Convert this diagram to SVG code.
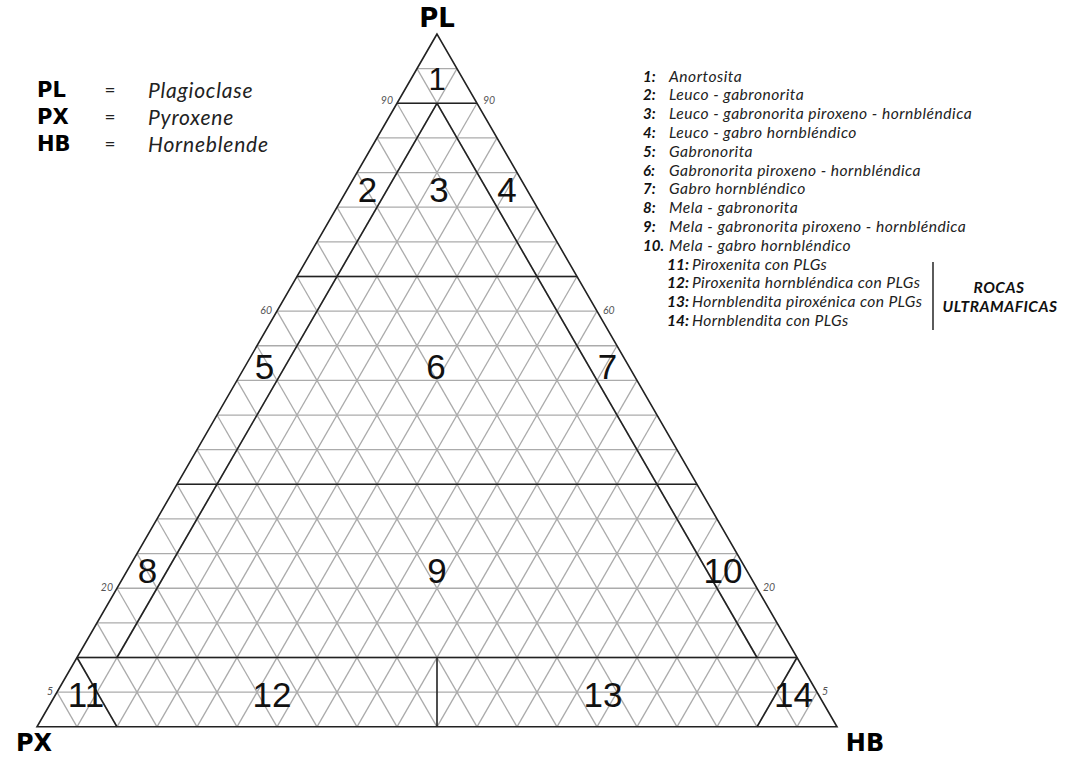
<svg xmlns="http://www.w3.org/2000/svg" xmlns:xlink="http://www.w3.org/1999/xlink" width="1071" height="757" viewBox="0 0 1071 757">
<style>
.gl{stroke:#ababab;stroke-width:1.3;fill:none}
.bold{stroke:#222;stroke-width:1.6;fill:none;stroke-linejoin:miter}
.num{font-family:"Liberation Sans",Arial,sans-serif;font-size:35px;fill:#111;text-anchor:middle}
.ax{font-family:"DejaVu Sans",Verdana,sans-serif;font-weight:bold;fill:#000}
.tick{font-family:Lato,"Open Sans",sans-serif;font-style:italic;font-size:10.5px;fill:#555}
.leg{font-family:Lato,"Open Sans",sans-serif;font-style:italic;font-size:21px;letter-spacing:0.8px;fill:#222}
.eq{font-family:Lato,"Open Sans",sans-serif;font-size:19px;fill:#222}
.rl{font-family:Lato,"Open Sans",sans-serif;font-style:italic;font-size:15.6px;letter-spacing:0.5px;fill:#222}
.rn{font-family:Lato,"Open Sans",sans-serif;font-style:italic;font-weight:bold;font-size:15px;fill:#111}
.rn2{font-family:Lato,"Open Sans",sans-serif;font-style:italic;font-weight:bold;font-size:15.5px;fill:#111}
.rl2{font-family:Lato,"Open Sans",sans-serif;font-style:italic;font-size:15.6px;letter-spacing:0.4px;fill:#222}
.uc{font-family:Lato,"Open Sans",sans-serif;font-style:italic;font-weight:bold;font-size:15.5px;letter-spacing:0.5px;fill:#111;text-anchor:middle}
</style>
<defs>
<g id="hbgrid" stroke="#ababab" stroke-width="1.3" fill="none">
<line x1="77" y1="726.8" x2="457" y2="68.64"/>
<line x1="117" y1="726.8" x2="477" y2="103.28"/>
<line x1="157" y1="726.8" x2="497" y2="137.92"/>
<line x1="197" y1="726.8" x2="517" y2="172.56"/>
<line x1="237" y1="726.8" x2="537" y2="207.2"/>
<line x1="277" y1="726.8" x2="557" y2="241.84"/>
<line x1="317" y1="726.8" x2="577" y2="276.48"/>
<line x1="357" y1="726.8" x2="597" y2="311.12"/>
<line x1="397" y1="726.8" x2="617" y2="345.76"/>
<line x1="437" y1="726.8" x2="637" y2="380.4"/>
<line x1="477" y1="726.8" x2="657" y2="415.04"/>
<line x1="517" y1="726.8" x2="677" y2="449.68"/>
<line x1="557" y1="726.8" x2="697" y2="484.32"/>
<line x1="597" y1="726.8" x2="717" y2="518.96"/>
<line x1="637" y1="726.8" x2="737" y2="553.6"/>
<line x1="677" y1="726.8" x2="757" y2="588.24"/>
<line x1="717" y1="726.8" x2="777" y2="622.88"/>
<line x1="757" y1="726.8" x2="797" y2="657.52"/>
<line x1="797" y1="726.8" x2="817" y2="692.16"/>
</g>
</defs>
<rect width="1071" height="757" fill="#fff"/>
<g id="grid" class="gl">
<line x1="417" y1="68.64" x2="457" y2="68.64"/>
<line x1="397" y1="103.28" x2="477" y2="103.28"/>
<line x1="377" y1="137.92" x2="497" y2="137.92"/>
<line x1="357" y1="172.56" x2="517" y2="172.56"/>
<line x1="337" y1="207.2" x2="537" y2="207.2"/>
<line x1="317" y1="241.84" x2="557" y2="241.84"/>
<line x1="297" y1="276.48" x2="577" y2="276.48"/>
<line x1="277" y1="311.12" x2="597" y2="311.12"/>
<line x1="257" y1="345.76" x2="617" y2="345.76"/>
<line x1="237" y1="380.4" x2="637" y2="380.4"/>
<line x1="217" y1="415.04" x2="657" y2="415.04"/>
<line x1="197" y1="449.68" x2="677" y2="449.68"/>
<line x1="177" y1="484.32" x2="697" y2="484.32"/>
<line x1="157" y1="518.96" x2="717" y2="518.96"/>
<line x1="137" y1="553.6" x2="737" y2="553.6"/>
<line x1="117" y1="588.24" x2="757" y2="588.24"/>
<line x1="97" y1="622.88" x2="777" y2="622.88"/>
<line x1="77" y1="657.52" x2="797" y2="657.52"/>
<line x1="57" y1="692.16" x2="817" y2="692.16"/>
<use xlink:href="#hbgrid"/>
<use xlink:href="#hbgrid" transform="matrix(-1 0 0 1 874 0)"/>
</g>
<g id="connectors" class="bold">
<path d="M437 34 L37 726.8 L837 726.8 Z"/>
<line x1="397" y1="103.28" x2="477" y2="103.28"/>
<line x1="297" y1="276.48" x2="577" y2="276.48"/>
<line x1="177" y1="484.32" x2="697" y2="484.32"/>
<line x1="77" y1="657.52" x2="797" y2="657.52"/>
<line x1="437" y1="103.28" x2="117" y2="657.52"/>
<line x1="437" y1="103.28" x2="757" y2="657.52"/>
<line x1="77" y1="657.52" x2="117" y2="726.8"/>
<line x1="797" y1="657.52" x2="757" y2="726.8"/>
<line x1="437" y1="657.52" x2="437" y2="726.8"/>
</g>
<g id="ticks" class="tick">
<text x="393" y="104" text-anchor="end">90</text>
<text x="483" y="104">90</text>
<text x="272" y="314" text-anchor="end">60</text>
<text x="603" y="314">60</text>
<text x="113" y="591" text-anchor="end">20</text>
<text x="763" y="591">20</text>
<text x="53" y="695" text-anchor="end">5</text>
<text x="822" y="695">5</text>
</g>
<g id="region-1"><text class="num" x="437" y="90" style="font-size:31px">1</text></g>
<g id="region-2"><text class="num" x="367.5" y="202">2</text></g>
<g id="region-3"><text class="num" x="439" y="202">3</text></g>
<g id="region-4"><text class="num" x="507" y="202">4</text></g>
<g id="region-5"><text class="num" x="264.5" y="379">5</text></g>
<g id="region-6"><text class="num" x="436" y="379">6</text></g>
<g id="region-7"><text class="num" x="607.5" y="379">7</text></g>
<g id="region-8"><text class="num" x="147.5" y="583">8</text></g>
<g id="region-9"><text class="num" x="437" y="583">9</text></g>
<g id="region-10"><text class="num" x="723" y="583">10</text></g>
<g id="region-11"><text class="num" x="86" y="707">11</text></g>
<g id="region-12"><text class="num" x="272" y="707">12</text></g>
<g id="region-13"><text class="num" x="603" y="707">13</text></g>
<g id="region-14"><text class="num" x="793.5" y="707">14</text></g>
<g id="axis-labels">
<text class="ax" x="437" y="27" text-anchor="middle" font-size="26">PL</text>
<text class="ax" x="34" y="751" text-anchor="middle" font-size="24">PX</text>
<text class="ax" x="865" y="751" text-anchor="middle" font-size="24">HB</text>
</g>
<g id="legend-left">
<text class="ax" x="37" y="97" font-size="21">PL</text>
<text class="ax" x="37" y="124" font-size="21">PX</text>
<text class="ax" x="37" y="151" font-size="21">HB</text>
<text class="eq" x="110" y="97" text-anchor="middle">=</text>
<text class="eq" x="110" y="124" text-anchor="middle">=</text>
<text class="eq" x="110" y="151" text-anchor="middle">=</text>
<text class="leg" x="148" y="98">Plagioclase</text>
<text class="leg" x="148" y="125">Pyroxene</text>
<text class="leg" x="148" y="152">Horneblende</text>
</g>
<g id="legend-right">
<text class="rn" x="643" y="81.5">1:</text><text class="rl" x="669" y="81.5">Anortosita</text>
<text class="rn" x="643" y="100.3">2:</text><text class="rl" x="669" y="100.3">Leuco - gabronorita</text>
<text class="rn" x="643" y="119.1">3:</text><text class="rl" x="669" y="119.1">Leuco - gabronorita piroxeno - hornbléndica</text>
<text class="rn" x="643" y="137.9">4:</text><text class="rl" x="669" y="137.9">Leuco - gabro hornbléndico</text>
<text class="rn" x="643" y="156.7">5:</text><text class="rl" x="669" y="156.7">Gabronorita</text>
<text class="rn" x="643" y="175.5">6:</text><text class="rl" x="669" y="175.5">Gabronorita piroxeno - hornbléndica</text>
<text class="rn" x="643" y="194.3">7:</text><text class="rl" x="669" y="194.3">Gabro hornbléndico</text>
<text class="rn" x="643" y="213.1">8:</text><text class="rl" x="669" y="213.1">Mela - gabronorita</text>
<text class="rn" x="643" y="231.9">9:</text><text class="rl" x="669" y="231.9">Mela - gabronorita piroxeno - hornbléndica</text>
<text class="rn" x="643" y="250.7">10.</text><text class="rl" x="669" y="250.7">Mela - gabro hornbléndico</text>
<text class="rn2" x="667" y="269.5">11:</text><text class="rl2" x="692" y="269.5">Piroxenita con PLGs</text>
<text class="rn2" x="667" y="288.3">12:</text><text class="rl2" x="692" y="288.3">Piroxenita hornbléndica con PLGs</text>
<text class="rn2" x="667" y="307.1">13:</text><text class="rl2" x="692" y="307.1">Hornblendita piroxénica con PLGs</text>
<text class="rn2" x="667" y="325.9">14:</text><text class="rl2" x="692" y="325.9">Hornblendita con PLGs</text>
<line x1="933" y1="262" x2="933" y2="330" stroke="#333" stroke-width="1.6"/>
<text class="uc" x="999" y="293">ROCAS</text>
<text class="uc" x="1000" y="312">ULTRAMAFICAS</text>
</g>
</svg>
